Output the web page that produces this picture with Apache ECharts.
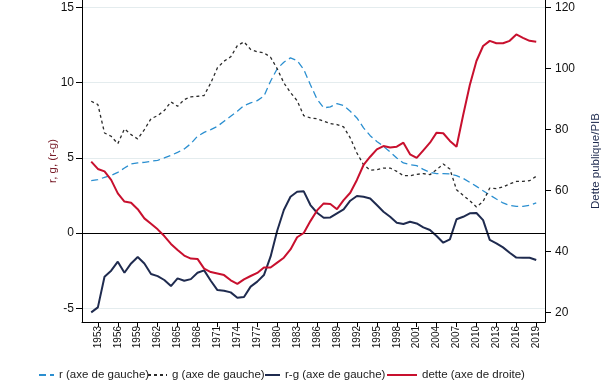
<!DOCTYPE html>
<html>
<head>
<meta charset="utf-8">
<script src="https://cdn.jsdelivr.net/npm/echarts@6/dist/echarts.min.js"></script>
<style>html,body{margin:0;padding:0;background:#fff;}#c{width:610px;height:386px;}</style>
</head>
<body>
<div id="c"></div>
<script>
const years = [];
for (let y = 1952; y <= 2019; y++) years.push(y);

const rVals = [3.48,3.55,3.70,3.83,4.03,4.32,4.59,4.66,4.70,4.77,
  4.83,4.99,5.16,5.36,5.59,5.94,6.43,6.69,6.87,7.09,
  7.43,7.76,8.09,8.47,8.65,8.80,9.10,10.09,10.92,11.35,
  11.64,11.46,10.87,9.85,8.90,8.32,8.38,8.60,8.47,8.09,
  7.65,6.99,6.47,6.09,5.76,5.39,4.99,4.66,4.54,4.48,
  4.23,4.03,3.95,3.95,3.93,3.81,3.63,3.37,3.10,2.81,
  2.53,2.26,2.00,1.84,1.77,1.77,1.84,2.00];

const gVals = [8.76,8.54,6.65,6.43,5.94,6.92,6.54,6.25,6.87,7.60,
  7.80,8.14,8.72,8.42,8.87,9.05,9.09,9.14,9.98,10.98,
  11.42,11.71,12.45,12.70,12.20,12.04,11.98,11.68,10.92,9.98,
  9.33,8.80,7.80,7.65,7.60,7.43,7.27,7.21,7.05,6.32,
  5.32,4.54,4.17,4.21,4.32,4.32,4.10,3.81,3.81,3.90,
  3.95,3.88,4.21,4.59,4.25,2.88,2.50,2.15,1.73,2.10,
  2.99,2.95,3.06,3.26,3.43,3.43,3.48,3.77];

const rgVals = [-5.27,-4.94,-2.90,-2.50,-1.90,-2.64,-2.02,-1.59,-2.02,-2.72,
  -2.86,-3.12,-3.52,-3.01,-3.17,-3.06,-2.64,-2.48,-3.17,-3.79,
  -3.83,-3.94,-4.30,-4.25,-3.56,-3.23,-2.79,-1.57,0.15,1.53,
  2.41,2.74,2.77,1.86,1.35,1.02,1.04,1.31,1.57,2.15,
  2.46,2.41,2.30,1.86,1.42,1.08,0.69,0.60,0.75,0.64,
  0.38,0.20,-0.20,-0.64,-0.42,0.92,1.08,1.31,1.33,0.86,
  -0.45,-0.68,-0.95,-1.31,-1.63,-1.64,-1.64,-1.79];

const detteVals = [69.4,67.0,66.2,63.4,59.0,56.3,55.9,53.8,50.8,49.0,
  47.2,45.0,42.4,40.4,38.6,37.6,37.5,34.3,33.2,32.7,
  32.2,30.5,29.3,30.8,31.9,32.9,34.7,34.7,36.3,37.9,
  40.6,44.6,46.0,49.9,53.4,55.7,55.5,53.8,56.8,59.2,
  63.4,68.3,71.0,73.4,74.5,74.0,74.3,75.6,71.8,70.6,
  73.1,75.6,78.9,78.7,76.2,74.3,84.7,94.5,102.4,107.3,
  109.0,108.2,108.2,109.0,111.1,110.0,109.0,108.7];

const xTicks = [];
for (let y = 1953; y <= 2019; y += 3) xTicks.push(y);
const leftTicks = [-5, 0, 5, 10, 15];
const rightTicks = [20, 40, 60, 80, 100, 120];

const names = ['r (axe de gauche)', 'g (axe de gauche)', 'r-g (axe de gauche)', 'dette (axe de droite)'];

const pair = arr => years.map((y, i) => [y, arr[i]]);
const FONT = 'Liberation Sans';

const chart = echarts.init(document.getElementById('c'), null, {renderer: 'canvas'});
const legendBase = {
  top: 369, itemHeight: 10, itemGap: 5,
  textStyle: {fontFamily: FONT, fontSize: 11.5, color: '#222'},
  itemStyle: {opacity: 0},
  padding: 0, selectedMode: false
};
chart.setOption({
  animation: false,
  backgroundColor: '#fff',
  grid: {left: 82, right: 52, top: 0, bottom: 64},
  legend: [
    Object.assign({}, legendBase, {data: [names[0]], left: 38, itemWidth: 15}),
    Object.assign({}, legendBase, {data: [names[1]], left: 147, itemWidth: 19}),
    Object.assign({}, legendBase, {data: [names[2]], left: 264, itemWidth: 15}),
    Object.assign({}, legendBase, {data: [names[3]], left: 386, itemWidth: 30})
  ],
  xAxis: {
    type: 'value', min: 1950.61, max: 2020.32,
    axisLine: {show: true, onZero: false, lineStyle: {color: '#000', width: 1}},
    axisTick: {show: true, length: 5, customValues: xTicks, lineStyle: {color: '#000'}},
    axisLabel: {customValues: xTicks, rotate: 90, fontFamily: FONT, fontSize: 10, color: '#111', margin: 4,
      formatter: v => String(v)},
    splitLine: {show: false}
  },
  yAxis: [
    {
      type: 'value', min: -5.91, max: 15.485, position: 'left',
      name: 'r, g, (r-g)', nameLocation: 'middle', nameGap: 23, nameRotate: 90, nameMoveOverlap: false,
      nameTextStyle: {fontFamily: FONT, fontSize: 11.5, color: '#7a1f2b'},
      axisLine: {show: true, onZero: false, lineStyle: {color: '#000', width: 1}},
      axisTick: {show: true, length: 6, customValues: leftTicks, lineStyle: {color: '#000'}},
      axisLabel: {customValues: leftTicks, fontFamily: FONT, fontSize: 12, color: '#111', margin: 8},
      splitLine: {show: true, lineStyle: {color: '#e4ecee', width: 1}}
    },
    {
      type: 'value', min: 16.82, max: 122.39, position: 'right',
      name: 'Dette publique/PIB', nameLocation: 'middle', nameGap: 45, nameRotate: 90, nameMoveOverlap: false,
      nameTextStyle: {fontFamily: FONT, fontSize: 11.5, color: '#1f2b4f'},
      axisLine: {show: true, onZero: false, lineStyle: {color: '#000', width: 1}},
      axisTick: {show: true, length: 6, customValues: rightTicks, lineStyle: {color: '#000'}},
      axisLabel: {customValues: rightTicks, fontFamily: FONT, fontSize: 12, color: '#111', margin: 10},
      splitLine: {show: false}
    }
  ],
  series: [
    {
      name: names[0], type: 'line', yAxisIndex: 0, data: pair(rVals),
      symbol: 'none', showSymbol: false, z: 3,
      itemStyle: {color: '#2b8fd0'},
      lineStyle: {color: '#2b8fd0', width: 1.3, type: [7, 4]}
    },
    {
      name: names[1], type: 'line', yAxisIndex: 0, data: pair(gVals),
      symbol: 'none', showSymbol: false, z: 3,
      itemStyle: {color: '#2a2a2a'},
      lineStyle: {color: '#2a2a2a', width: 1.3, type: [3, 3]}
    },
    {
      name: names[2], type: 'line', yAxisIndex: 0, data: pair(rgVals),
      symbol: 'none', showSymbol: false, z: 4,
      itemStyle: {color: '#1f2b4f'},
      lineStyle: {color: '#1f2b4f', width: 2},
      markLine: {
        silent: true, symbol: 'none', label: {show: false},
        lineStyle: {color: '#000', width: 1.2, type: 'solid'},
        data: [{yAxis: 0}]
      }
    },
    {
      name: names[3], type: 'line', yAxisIndex: 1, data: pair(detteVals),
      symbol: 'none', showSymbol: false, z: 5,
      itemStyle: {color: '#c8102e'},
      lineStyle: {color: '#c8102e', width: 2}
    }
  ]
});
</script>
</body>
</html>
